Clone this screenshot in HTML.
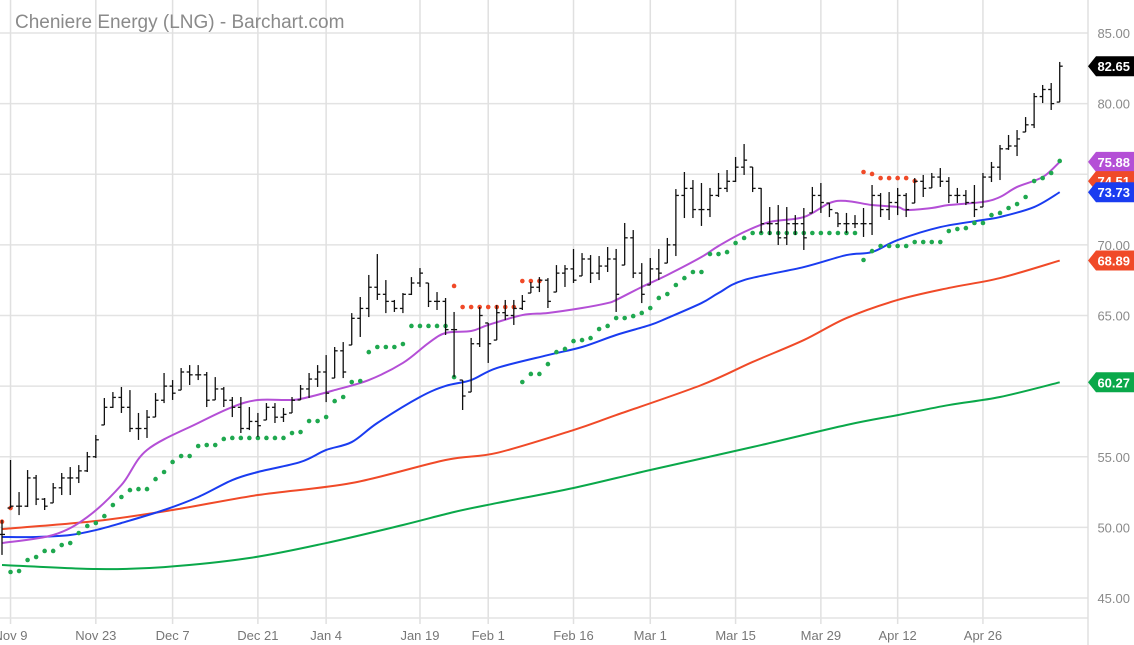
<!DOCTYPE html>
<html><head><meta charset="utf-8"><style>
html,body{margin:0;padding:0;background:#fff;}
svg{display:block;font-family:"Liberation Sans",sans-serif;}
</style></head><body>
<svg id="chart" width="1134" height="645" viewBox="0 0 1134 645" xmlns="http://www.w3.org/2000/svg">
<g id="grid"></g>
<g id="mas"></g>
<g id="sar"></g>
<g id="bars"></g>
<g id="axes"></g>
<text x="15" y="28" font-size="19" fill="#8a8a8a">Cheniere Energy (LNG) - Barchart.com</text>
</svg>
<script>
const highs=[50.52,54.77,52.50,54.06,53.71,52.08,53.14,53.85,54.27,54.41,55.34,56.54,59.16,59.58,59.94,59.72,58.10,58.31,59.51,60.93,60.43,61.28,61.49,61.49,61.00,60.64,59.94,59.23,59.23,58.52,58.10,58.80,58.80,58.45,59.23,60.08,60.93,61.49,62.20,62.77,63.12,65.17,66.31,67.87,69.35,67.51,66.10,66.59,67.72,68.36,67.30,66.66,66.24,65.25,60.43,63.41,65.60,64.47,65.74,66.10,66.10,66.45,67.37,67.72,67.65,68.57,68.57,69.71,69.42,69.28,69.21,69.85,69.71,71.55,71.05,68.71,69.07,69.71,70.49,73.95,75.16,74.59,74.38,74.03,75.09,75.30,76.22,77.14,75.51,74.03,72.68,72.82,72.68,72.11,72.61,74.10,74.38,72.96,72.26,72.26,72.11,72.61,74.24,73.67,73.74,74.03,73.67,74.73,74.95,75.09,75.44,74.80,74.03,73.88,74.24,75.09,75.87,77.07,77.78,78.13,79.05,80.75,81.32,81.46,82.95];
const lows=[48.05,51.37,50.87,51.44,51.58,51.23,51.73,52.29,52.29,53.14,53.92,54.91,57.25,58.45,58.10,56.75,56.19,56.33,57.81,58.80,59.02,59.72,60.08,60.43,58.52,59.02,58.52,57.81,56.68,56.89,56.40,57.60,57.39,57.46,58.10,59.02,59.16,59.94,58.87,60.57,60.57,62.91,63.48,64.89,66.10,65.17,65.25,65.17,66.45,67.02,65.60,65.39,63.62,60.64,58.31,59.58,62.77,61.64,63.26,64.68,64.33,65.39,66.59,66.66,65.53,66.66,67.02,67.30,67.80,67.30,67.51,68.08,65.25,68.57,67.65,65.88,67.16,67.51,68.71,69.21,71.90,71.90,71.34,71.97,73.39,73.74,74.45,74.95,73.74,70.84,70.70,69.99,69.99,70.70,69.64,72.26,72.26,71.97,71.26,70.84,71.19,70.56,70.70,71.97,71.76,72.11,71.97,72.96,73.39,74.03,74.10,72.96,72.96,72.82,71.97,72.68,74.45,74.59,76.72,76.29,77.99,78.27,80.04,79.55,80.11];
const closes=[49.5,51.5,51.5,53.5,52.0,51.5,52.8,53.5,53.5,54.0,55.0,56.2,58.5,59.2,58.5,57.0,57.0,57.8,59.0,60.0,59.5,61.0,60.8,60.8,59.0,59.8,59.0,58.5,57.0,57.5,57.2,58.5,57.8,58.0,59.0,59.8,60.5,61.0,59.5,62.5,61.0,64.8,65.5,67.0,66.5,66.0,65.5,66.5,67.3,68.0,66.0,66.0,64.0,64.0,59.3,63.0,65.0,63.0,65.2,65.0,65.5,66.0,67.0,67.5,66.0,68.0,68.3,67.5,69.0,68.0,68.5,69.0,66.5,70.5,68.0,66.5,68.3,68.0,70.0,73.5,74.0,72.5,72.5,73.5,74.0,74.5,75.5,76.0,74.0,71.5,71.5,70.5,71.5,71.5,70.5,73.5,73.0,72.5,71.5,71.5,71.5,71.5,73.5,72.5,73.0,73.5,72.5,74.5,74.0,74.8,74.5,73.5,73.5,73.0,72.5,74.8,75.5,76.8,77.0,77.5,78.5,80.5,81.0,80.0,82.65];
const sarGreen=[null,46.84,46.91,47.69,47.90,48.33,48.33,48.75,48.89,49.60,50.10,50.31,50.80,51.58,52.15,52.64,52.71,52.71,53.42,53.92,54.63,55.05,55.05,55.76,55.83,55.83,56.26,56.33,56.33,56.33,56.33,56.33,56.33,56.33,56.68,56.75,57.53,57.53,57.81,58.94,59.23,60.29,60.36,62.41,62.77,62.77,62.77,62.98,64.26,64.26,64.26,64.26,64.26,60.64,null,null,null,null,null,null,null,60.29,60.86,60.86,61.56,62.41,62.63,63.19,63.26,63.40,64.04,64.26,64.82,64.82,64.96,65.18,65.53,66.24,66.52,67.16,67.65,68.08,68.08,69.35,69.35,69.49,70.13,70.49,70.84,70.84,70.84,70.84,70.84,70.84,70.84,70.84,70.84,70.84,70.84,70.84,70.84,68.93,69.56,69.92,69.92,69.92,69.92,70.2,70.2,70.2,70.2,70.98,71.12,71.19,71.55,71.55,72.11,72.26,72.61,72.89,73.39,74.52,74.73,75.09,75.94];
const sarRedIdx=[0,1,53,54,55,56,57,58,59,60,61,62,63,101,102,103,104,105,106,107];
const sarRedVal=[50.4,51.37,67.09,65.60,65.60,65.60,65.60,65.60,65.60,65.60,67.44,67.44,67.44,75.16,75.02,74.73,74.73,74.73,74.73,74.52];
const ma20Idx=[0,6,10,14,17,23,27,30,34,36,39,43,47,50,52,55,57,61,64,68,71,72,75,78,82,84,87,90,94,97,99,102,105,106,109,111,115,117,119,122,124];
const ma20Val=[48.89,49.46,50.73,53.00,55.48,57.39,58.52,59.02,59.02,59.23,59.72,60.43,61.64,63.05,63.76,63.90,64.33,65.03,65.18,65.53,65.88,66.10,67.02,67.87,69.14,69.92,70.91,71.62,71.97,72.96,73.11,72.82,72.68,72.47,72.61,72.82,73.04,73.39,74.10,74.80,75.88];
const ma50Idx=[0,4,8,11,14,19,23,27,30,35,38,41,44,49,52,55,58,64,68,72,76,78,82,84,87,94,99,102,105,110,115,117,121,124];
const ma50Val=[49.32,49.32,49.46,49.81,50.31,51.23,52.15,53.35,53.92,54.63,55.48,56.04,57.39,59.23,60.01,60.43,61.28,62.20,62.77,63.62,64.33,64.82,65.88,66.59,67.51,68.43,69.28,69.49,70.34,71.26,71.76,71.97,72.68,73.73];
const ma100Idx=[0,11,20,30,41,52,58,67,72,82,88,94,99,105,111,117,124];
const ma100Val=[49.88,50.45,51.23,52.29,53.14,54.77,55.27,56.89,57.95,60.08,61.71,63.26,64.82,66.10,66.95,67.65,68.89];
const ma200Idx=[0,11,19,29,38,47,53,58,67,76,88,99,105,111,117,124];
const ma200Val=[47.34,47.05,47.19,47.83,48.89,50.17,51.09,51.72,52.79,54.06,55.69,57.25,57.95,58.66,59.23,60.27];
const yTicks=[45,50,55,60,65,70,75,80,85];
const xTickIdx=[1,11,20,30,38,49,57,67,76,86,96,105,115];
const xTickLbl=["Nov 9","Nov 23","Dec 7","Dec 21","Jan 4","Jan 19","Feb 1","Feb 16","Mar 1","Mar 15","Mar 29","Apr 12","Apr 26"];
const lastLabels=[82.65,75.88,74.51,73.73,68.89,60.27];
const lastColors=["#000000","#b44fd6","#f04a28","#1a3cf0","#f04a28","#0aa84a"];

const NS="http://www.w3.org/2000/svg";
const X=i=>2+i*8.53;
const Y=p=>33+(85-p)*14.125;
function mk(tag,attrs,parent){const e=document.createElementNS(NS,tag);for(const k in attrs)e.setAttribute(k,attrs[k]);parent.appendChild(e);return e;}
const grid=document.getElementById('grid'),axes=document.getElementById('axes'),bars=document.getElementById('bars'),mas=document.getElementById('mas'),sar=document.getElementById('sar');
yTicks.forEach(v=>{
  const l=mk('line',{x1:0,x2:1088,y1:Y(v),y2:Y(v),stroke:'#e3e3e3','stroke-width':1.5},grid);
  
  const t=mk('text',{x:1130,y:Y(v)+5,'text-anchor':'end','font-size':13,fill:'#8a8a8a'},axes);
  
  t.textContent=v.toFixed(2);
});
xTickIdx.forEach((i,k)=>{
  const l=mk('line',{x1:X(i),x2:X(i),y1:0,y2:624,stroke:'#e0e0e0','stroke-width':1.5},grid);
  
  const t=mk('text',{x:X(i),y:640,'text-anchor':'middle','font-size':13,fill:'#777'},axes);
  
  t.textContent=xTickLbl[k];
});
const bl=mk('line',{x1:0,x2:1088,y1:618,y2:618,stroke:'#e3e3e3','stroke-width':1.5},grid);

const rl=mk('line',{x1:1088,x2:1088,y1:0,y2:645,stroke:'#e0e0e0','stroke-width':1.5},grid);


function smooth(idx,val){
  const p=idx.map((i,k)=>[X(i),Y(val[k])]);
  let d='M'+p[0][0]+','+p[0][1];
  for(let k=0;k<p.length-1;k++){
    const p0=p[k-1]||p[k],p1=p[k],p2=p[k+1],p3=p[k+2]||p2;
    const c1=[p1[0]+(p2[0]-p0[0])/6,p1[1]+(p2[1]-p0[1])/6],c2=[p2[0]-(p3[0]-p1[0])/6,p2[1]-(p3[1]-p1[1])/6];
    d+=' C'+c1.join(',')+' '+c2.join(',')+' '+p2.join(',');
  }
  return d;
}
[[ma200Idx,ma200Val,'#0aa84a','ma-200-line'],[ma100Idx,ma100Val,'#f04a28','ma-100-line'],[ma50Idx,ma50Val,'#1a3cf0','ma-50-line'],[ma20Idx,ma20Val,'#b44fd6','ma-20-line']].forEach(m=>{
  const e=mk('path',{d:smooth(m[0],m[1]),fill:'none',stroke:m[2],'stroke-width':2},mas);
  
});
sarGreen.forEach((v,i)=>{if(v==null)return;
  const c=mk('circle',{cx:X(i),cy:Y(v),r:2.3,fill:'#1fa84f'},sar);
  });
sarRedIdx.forEach((i,k)=>{
  const c=mk('circle',{cx:X(i),cy:Y(sarRedVal[k]),r:2.3,fill:'#f04a28'},sar);
  });
highs.forEach((h,i)=>{
  const lo=lows[i],cl=Math.min(h,Math.max(lo,closes[i]));
  const op=Math.min(h,Math.max(lo,i>0?closes[i-1]:closes[i]));
  const g=mk('g',{stroke:'#111','stroke-width':1.3},bars);
  
  const x=X(i);
  mk('line',{x1:x,x2:x,y1:Y(h),y2:Y(lo)},g);
  mk('line',{x1:x-3,x2:x,y1:Y(op),y2:Y(op)},g);
  mk('line',{x1:x,x2:x+3,y1:Y(cl),y2:Y(cl)},g);
});
lastLabels.forEach((v,k)=>{
  const y=Y(v);
  const g=mk('g',{},axes);
  
  mk('path',{d:`M1088,${y} L1096,${y-10} L1134,${y-10} L1134,${y+10} L1096,${y+10} Z`,fill:lastColors[k]},g);
  const t=mk('text',{x:1130,y:y+5,'text-anchor':'end','font-size':13,'font-weight':'bold',fill:'#fff'},g);
  t.textContent=v.toFixed(2);
});
</script>
</body></html>
